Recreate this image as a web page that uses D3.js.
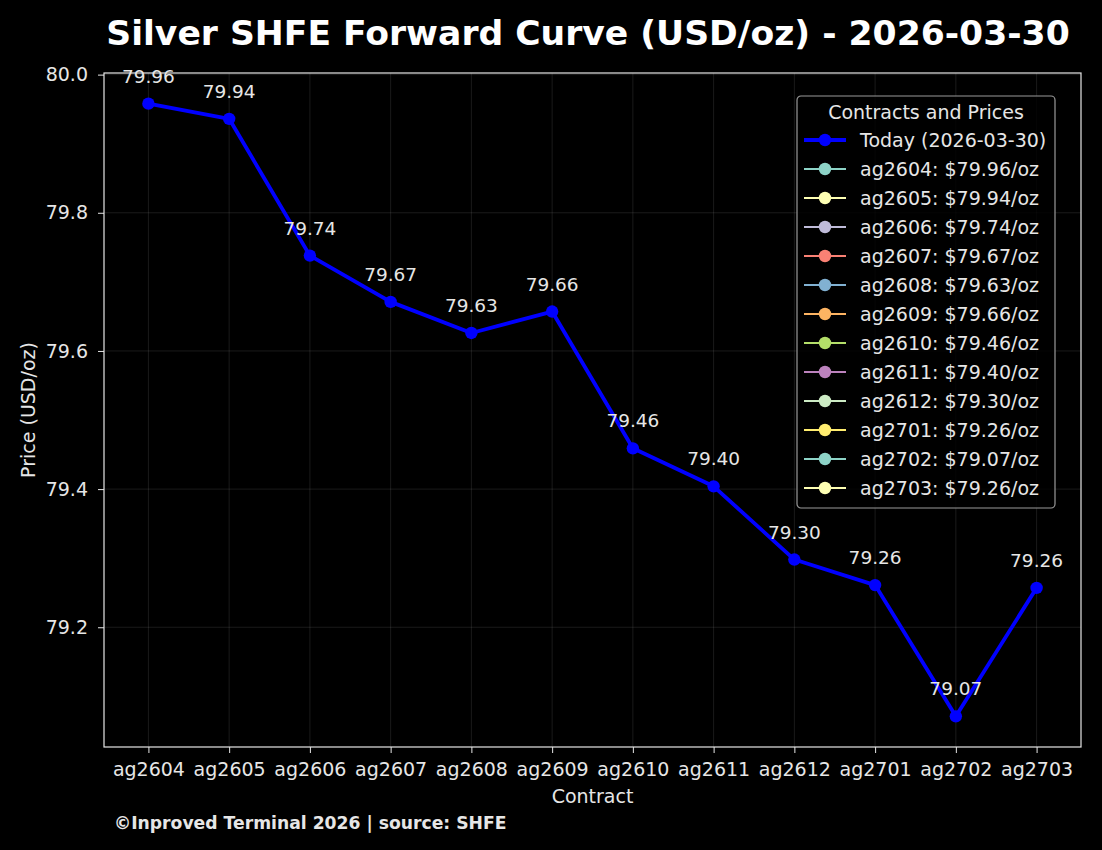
<!DOCTYPE html>
<html lang="en">
<head>
    <meta charset="UTF-8">
    <script type="text/javascript" src="https://d3js.org/d3.v7.min.js"></script>
    <title>Silver SHFE Forward Curve</title>
    <style>
        body { margin: 0; background: #000; }
        text { font-family: "DejaVu Sans", sans-serif; }
    </style>
</head>
<body>
    <svg id="plot"></svg>
    <script>
        const contracts = ["ag2604","ag2605","ag2606","ag2607","ag2608","ag2609","ag2610","ag2611","ag2612","ag2701","ag2702","ag2703"];
        const prices = [79.958, 79.936, 79.738, 79.671, 79.626, 79.657, 79.459, 79.404, 79.298, 79.261, 79.071, 79.257];
        const yTicks = [79.2, 79.4, 79.6, 79.8, 80.0];
        const cycle = ['#8dd3c7','#feffb3','#bfbbd9','#fa8174','#81b1d2','#fdb462','#b3de69','#bc82bd','#ccebc4','#ffed6f'];
        const titleText = "Silver SHFE Forward Curve (USD/oz) - 2026-03-30";
        const todayLabel = "Today (2026-03-30)";

        const width = 1102, height = 850;
        const margin = {top: 73, right: 21, bottom: 103, left: 104};
        const fg = "#e6e6e6";
        const fs = "19px";

        const svg = d3.select("#plot").attr("width", width).attr("height", height)
            .style("background", "#000");

        const data = contracts.map((c, i) => ({c: c, i: i, v: prices[i]}));

        const x = d3.scaleLinear()
            .domain([-0.55, contracts.length - 1 + 0.55])
            .range([margin.left, width - margin.right]);
        const ext = d3.extent(prices);
        const pad = (ext[1] - ext[0]) * 0.05;
        const y = d3.scaleLinear()
            .domain([ext[0] - pad, ext[1] + pad])
            .range([height - margin.bottom, margin.top]);

        // grid
        const grid = svg.append("g").attr("stroke", "#ffffff").attr("stroke-opacity", 0.1).attr("stroke-width", 1);
        grid.selectAll("line.v").data(data).join("line")
            .attr("x1", d => x(d.i)).attr("x2", d => x(d.i))
            .attr("y1", margin.top).attr("y2", height - margin.bottom);
        grid.selectAll("line.h").data(yTicks).join("line")
            .attr("x1", margin.left).attr("x2", width - margin.right)
            .attr("y1", d => y(d)).attr("y2", d => y(d));

        // axes
        const xAxis = d3.axisBottom(x).tickValues(d3.range(contracts.length))
            .tickFormat(i => contracts[i]).tickSize(6).tickPadding(10);
        const yAxis = d3.axisLeft(y).tickValues(yTicks).tickFormat(d3.format(".1f")).tickSize(6).tickPadding(10);

        svg.append("g").attr("transform", `translate(0,${height - margin.bottom})`).call(xAxis)
            .call(g => g.select(".domain").remove())
            .call(g => g.selectAll("line").attr("stroke", fg))
            .call(g => g.selectAll("text").attr("fill", fg).style("font-size", fs));
        svg.append("g").attr("transform", `translate(${margin.left},0)`).call(yAxis)
            .call(g => g.select(".domain").remove())
            .call(g => g.selectAll("line").attr("stroke", fg))
            .call(g => g.selectAll("text").attr("fill", fg).style("font-size", fs));

        // frame
        svg.append("rect")
            .attr("x", margin.left).attr("y", margin.top)
            .attr("width", width - margin.left - margin.right)
            .attr("height", height - margin.top - margin.bottom)
            .attr("fill", "none").attr("stroke", fg).attr("stroke-width", 1.2);

        // line + markers
        const line = d3.line().x(d => x(d.i)).y(d => y(d.v));
        svg.append("path").attr("d", line(data))
            .attr("fill", "none").attr("stroke", "#0000ff").attr("stroke-width", 3.8)
            .attr("stroke-linejoin", "round");
        svg.selectAll("circle.pt").data(data).join("circle")
            .attr("cx", d => x(d.i)).attr("cy", d => y(d.v)).attr("r", 6.2)
            .attr("fill", "#0000ff");

        // value labels
        svg.selectAll("text.val").data(data).join("text")
            .attr("x", d => x(d.i)).attr("y", d => y(d.v) - 21)
            .attr("text-anchor", "middle").attr("fill", fg)
            .style("font-size", "18.5px")
            .text(d => d.v.toFixed(2));

        // titles
        svg.append("text").attr("x", 588).attr("y", 45).attr("text-anchor", "middle")
            .attr("fill", "#ffffff").style("font-size", "34.6px").style("font-weight", "bold")
            .text(titleText);
        svg.append("text").attr("x", (margin.left + width - margin.right) / 2).attr("y", 803)
            .attr("text-anchor", "middle").attr("fill", fg).style("font-size", fs)
            .text("Contract");
        svg.append("text").attr("transform", `translate(35,${(margin.top + height - margin.bottom) / 2}) rotate(-90)`)
            .attr("text-anchor", "middle").attr("fill", fg).style("font-size", fs)
            .text("Price (USD/oz)");
        svg.append("text").attr("x", 114).attr("y", 829)
            .attr("fill", fg).style("font-size", "17.2px").style("font-weight", "bold")
            .text("\u00a9Inproved Terminal 2026 | source: SHFE");

        // legend
        const lg = svg.append("g").attr("transform", "translate(797,96)");
        const rowH = 29;
        const entries = [{label: todayLabel, color: "#0000ff", w: 3.8}].concat(
            data.map((d, i) => ({label: `${d.c}: $${d.v.toFixed(2)}/oz`, color: cycle[i % cycle.length], w: 2.2})));
        lg.append("rect").attr("width", 258).attr("height", 412).attr("rx", 4)
            .attr("fill", "#000").attr("fill-opacity", 0.8)
            .attr("stroke", "#999").attr("stroke-width", 1.2);
        lg.append("text").attr("x", 129).attr("y", 23).attr("text-anchor", "middle")
            .attr("fill", fg).style("font-size", fs).text("Contracts and Prices");
        const rows = lg.selectAll("g.row").data(entries).join("g")
            .attr("transform", (d, i) => `translate(0,${44 + i * rowH})`);
        rows.append("line").attr("x1", 7).attr("x2", 49).attr("y1", 0).attr("y2", 0)
            .attr("stroke", d => d.color).attr("stroke-width", d => d.w);
        rows.append("circle").attr("cx", 28).attr("cy", 0).attr("r", 6.2).attr("fill", d => d.color);
        rows.append("text").attr("x", 63).attr("y", 7).attr("fill", fg)
            .style("font-size", fs).text(d => d.label);
    </script>
</body>
</html>
